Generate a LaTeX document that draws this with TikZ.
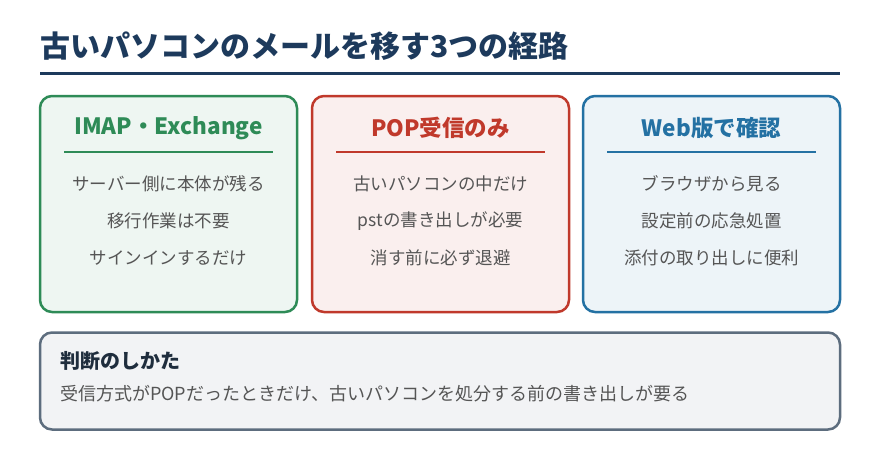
\documentclass[tikz,border=0pt]{standalone}
\usepackage{fontspec}
\setmainfont{Noto Sans CJK JP}
\usepackage{xcolor}
\definecolor{titlenavy}{HTML}{1D3A5C}
\definecolor{imapgreen}{HTML}{2E8B57}
\definecolor{popred}{HTML}{C0392B}
\definecolor{webblue}{HTML}{2471A3}
\definecolor{judgegray}{HTML}{5D6D7E}
\definecolor{judgedark}{HTML}{1F2D3D}
\definecolor{bodygray}{HTML}{555555}
\usepackage{tikz}
\usetikzlibrary{positioning}
\tikzset{
  card/.style={line width=2.5pt, rounded corners=12pt, minimum width=257pt, minimum height=216pt},
  cardhead/.style={font=\bfseries\fontsize{22.5}{26}\selectfont},
  cardline/.style={font=\fontsize{17.5}{21}\selectfont, text=bodygray}
}

\begin{document}
\begin{tikzpicture}[x=1pt, y=-1pt, every node/.style={inner sep=0pt}]
\useasboundingbox[fill=white] (0,0) rectangle (880,460);
\node[anchor=west, font=\bfseries\fontsize{30}{34}\selectfont, text=titlenavy] (title) at (40,46) {古いパソコンのメールを移す3つの経路};
\draw[draw=titlenavy, line width=3pt] (40,73) -- (840,73);
% three cards
\foreach \i/\xl/\col/\head/\la/\lb/\lc in {
  1/40/imapgreen/IMAP・Exchange/サーバー側に本体が残る/移行作業は不要/サインインするだけ,
  2/312/popred/POP受信のみ/古いパソコンの中だけ/pstの書き出しが必要/消す前に必ず退避,
  3/583/webblue/Web版で確認/ブラウザから見る/設定前の応急処置/添付の取り出しに便利}{
  \node[card, draw=\col, fill=\col!8] (card\i) at (\xl+128.5,204) {};
  \node[cardhead, text=\col] (head\i) at (\xl+128.5,128) {\head};
  \draw[draw=\col, line width=2pt] (\xl+24,152) -- (\xl+233,152);
  \foreach \t [count=\j] in {\la,\lb,\lc}{
    \node[cardline] (line\i\j) at (\xl+128.5,147+37*\j) {\t};
  }
}
% bottom note
\node[draw=judgegray, fill=judgegray!8, line width=2.5pt, rounded corners=12pt, minimum width=800pt, minimum height=97pt] (judge) at (440,381) {};
\node[anchor=west, font=\bfseries\fontsize{20}{24}\selectfont, text=judgedark] (judgehead) at (60,361) {判断のしかた};
\node[anchor=west, font=\fontsize{18}{22}\selectfont, text=bodygray] (judgetext) at (60,394) {受信方式がPOPだったときだけ、古いパソコンを処分する前の書き出しが要る};
\end{tikzpicture}
\end{document}
